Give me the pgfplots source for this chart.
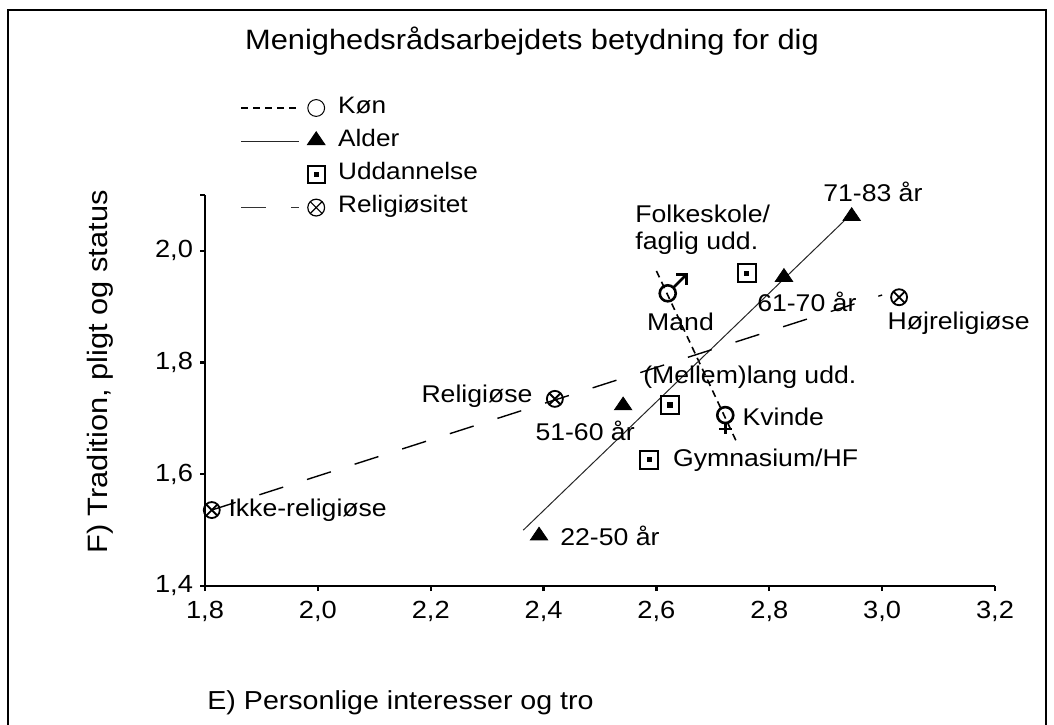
\documentclass[border=0pt]{standalone}
\usepackage{fontspec}
\setmainfont{Liberation Sans}[FakeStretch=1.1]
\usepackage{pgfplots}
\pgfplotsset{compat=1.18}

\pgfdeclareplotmark{sqdot}{%
  \pgfpathrectangle{\pgfpoint{-\pgfplotmarksize}{-\pgfplotmarksize}}{\pgfpoint{2\pgfplotmarksize}{2\pgfplotmarksize}}%
  \pgfusepathqstroke
  \pgfpathrectangle{\pgfpoint{-1.3pt}{-1.3pt}}{\pgfpoint{2.6pt}{2.6pt}}%
  \pgfusepathqfill
}
\pgfdeclareplotmark{otimes}{%
  \pgfpathcircle{\pgfpointorigin}{\pgfplotmarksize}\pgfusepathqstroke
  \pgfpathmoveto{\pgfpoint{-0.707\pgfplotmarksize}{-0.707\pgfplotmarksize}}%
  \pgfpathlineto{\pgfpoint{0.707\pgfplotmarksize}{0.707\pgfplotmarksize}}%
  \pgfpathmoveto{\pgfpoint{-0.707\pgfplotmarksize}{0.707\pgfplotmarksize}}%
  \pgfpathlineto{\pgfpoint{0.707\pgfplotmarksize}{-0.707\pgfplotmarksize}}%
  \pgfusepathqstroke
}
\pgfdeclareplotmark{male}{%
  \pgfpathcircle{\pgfpointorigin}{4pt}\pgfusepathqstroke
  \pgfpathmoveto{\pgfpoint{2.9pt}{2.9pt}}\pgfpathlineto{\pgfpoint{9.5pt}{9.5pt}}\pgfusepathqstroke
  \pgfpathmoveto{\pgfpoint{4.3pt}{9.5pt}}\pgfpathlineto{\pgfpoint{9.5pt}{9.5pt}}%
  \pgfpathlineto{\pgfpoint{9.5pt}{4.3pt}}\pgfusepathqstroke
}
\pgfdeclareplotmark{female}{%
  \pgfpathcircle{\pgfpointorigin}{4pt}\pgfusepathqstroke
  \pgfpathmoveto{\pgfpoint{0pt}{-4pt}}\pgfpathlineto{\pgfpoint{0pt}{-9.5pt}}\pgfusepathqstroke
  \pgfpathmoveto{\pgfpoint{-3.2pt}{-6.9pt}}\pgfpathlineto{\pgfpoint{3.2pt}{-6.9pt}}\pgfusepathqstroke
}

\newcommand{\lblfont}{\fontsize{12.1}{14}\selectfont}

\begin{document}
\begin{tikzpicture}
\useasboundingbox (0,0) rectangle (527pt,362pt);
\draw[line width=1pt] (4pt,-1pt) -- (4pt,357pt) -- (523pt,357pt) -- (523pt,-1pt);
\node[anchor=base, font=\fontsize{14}{16}\selectfont] at (266pt,337pt) {Menighedsrådsarbejdets betydning for dig};
\node[rotate=90, font=\fontsize{14}{16}\selectfont] at (50pt,176pt) {F) Tradition, pligt og status};
\node[anchor=base west, inner sep=0pt, font=\fontsize{13}{16}\selectfont] at (103.5pt,7.5pt) {E) Personlige interesser og tro};

\begin{axis}[
  at={(102.5pt,69pt)}, anchor=south west,
  scale only axis, width=395pt, height=195.5pt,
  xmin=1.8, xmax=3.2, ymin=1.4, ymax=2.1,
  axis x line*=bottom, axis y line*=left,
  axis line style={line width=0.9pt, -},
  xtick={1.8,2,2.2,2.4,2.6,2.8,3,3.2},
  ytick={1.4,1.6,1.8,2},
  extra y ticks={2.1}, extra y tick labels={},
  tick align=outside, major tick length=2.5pt,
  every tick/.style={line width=1.2pt, black},
  /pgf/number format/use comma,
  /pgf/number format/fixed,
  /pgf/number format/fixed zerofill,
  /pgf/number format/precision=1,
  /pgf/number format/assume math mode=true,
  tick label style={font=\fontsize{12.4}{14}\selectfont},
  xticklabel style={yshift=-1.5pt},
  clip=false,
  legend cell align=left,
  legend style={at={(axis description cs:0.0443,1.266)}, anchor=north west,
    draw=none, fill=none, font=\fontsize{11.9}{13}\selectfont,
    row sep=0pt, column sep=0pt, inner sep=0pt,
    nodes={inner sep=0pt, text height=11pt, text depth=5.6pt}},
]
% regression lines (carry legend entries)
\addplot[black, line width=0.8pt, dash pattern=on 3.5pt off 2.5pt,
  legend image code/.code={
    \draw[black, line width=0.8pt, dash pattern=on 3.5pt off 2.5pt] (0pt,0pt) -- (29pt,0pt);
    \draw[black, line width=0.5pt, solid] (37.5pt,0pt) circle (4.2pt);
    \path[draw=none] (0pt,0pt) -- (48.5pt,0pt);
  }] coordinates {(2.600,1.964) (2.742,1.658)};
\addlegendentry{Køn}
\addplot[black!85, line width=0.5pt,
  legend image code/.code={
    \draw[black!85, line width=0.5pt] (0pt,0pt) -- (29pt,0pt);
    \draw[black, fill=black] plot[mark=triangle*, mark size=5pt, mark options={yscale=0.85}] coordinates {(37.5pt,0.4pt)};
    \path[draw=none] (0pt,0pt) -- (48.5pt,0pt);
  }] coordinates {(2.364,1.500) (2.934,2.055)};
\addlegendentry{Alder}
\addplot[only marks, black, mark=sqdot, mark size=4.6pt, mark options={line width=1pt},
  legend image code/.code={
    \draw[black, line width=1pt] plot[mark=sqdot, mark size=4.2pt] coordinates {(37.5pt,0pt)};
    \path[draw=none] (0pt,0pt) -- (48.5pt,0pt);
  }] coordinates {(2.760,1.960) (2.624,1.724) (2.587,1.626)};
\addlegendentry{Uddannelse}
\addplot[black, line width=0.7pt, dash pattern=on 12.5pt off 12.5pt,
  legend image code/.code={
    \draw[black!80, line width=0.7pt, dash pattern=on 12.5pt off 12.5pt] (0pt,0pt) -- (29pt,0pt);
    \draw[black, line width=0.6pt, solid] plot[mark=otimes, mark size=4.2pt] coordinates {(37.5pt,0pt)};
    \path[draw=none] (0pt,0pt) -- (48.5pt,0pt);
  }] coordinates {(1.812,1.536) (3.000,1.921)};
\addlegendentry{Religiøsitet}

% markers
\addplot[forget plot, only marks, black, mark=triangle*, mark size=5pt, mark options={yscale=0.85}]
  coordinates {(2.392,1.490) (2.541,1.723) (2.826,1.953) (2.946,2.062)};
\addplot[forget plot, only marks, black, mark=otimes, mark size=4pt, mark options={line width=0.9pt, fill=none}]
  coordinates {(1.812,1.536) (2.420,1.735) (3.030,1.917)};
\addplot[forget plot, only marks, black, mark=male, mark options={line width=1.3pt}]
  coordinates {(2.620,1.924)};
\addplot[forget plot, only marks, black, mark=female, mark options={line width=1.3pt}]
  coordinates {(2.722,1.706)};

% labels
\node[anchor=base west, inner sep=0pt, font=\lblfont] at (axis cs:2.895,2.088) {71-83 år};
\node[anchor=base west, inner sep=0pt, font=\lblfont] at (axis cs:2.562,2.050) {Folkeskole/};
\node[anchor=base west, inner sep=0pt, font=\lblfont] at (axis cs:2.562,2.003) {faglig udd.};
\node[anchor=base west, inner sep=0pt, font=\lblfont] at (axis cs:2.583,1.858) {Mand};
\node[anchor=base west, inner sep=0pt, font=\lblfont] at (axis cs:2.778,1.891) {61-70 år};
\node[anchor=base west, inner sep=0pt, font=\lblfont] at (axis cs:2.576,1.762) {(Mellem)lang udd.};
\node[anchor=base west, inner sep=0pt, font=\lblfont] at (axis cs:2.752,1.688) {Kvinde};
\node[anchor=base west, inner sep=0pt, font=\lblfont] at (axis cs:3.009,1.860) {Højreligiøse};
\node[anchor=base east, inner sep=0pt, font=\lblfont] at (axis cs:2.381,1.728) {Religiøse};
\node[anchor=base west, inner sep=0pt, font=\lblfont] at (axis cs:2.385,1.661) {51-60 år};
\node[anchor=base west, inner sep=0pt, font=\lblfont] at (axis cs:2.629,1.614) {Gymnasium/HF};
\node[anchor=base west, inner sep=0pt, font=\lblfont] at (axis cs:2.429,1.473) {22-50 år};
\node[anchor=base west, inner sep=0pt, font=\lblfont] at (axis cs:1.841,1.524) {Ikke-religiøse};
\end{axis}
\end{tikzpicture}
\end{document}
